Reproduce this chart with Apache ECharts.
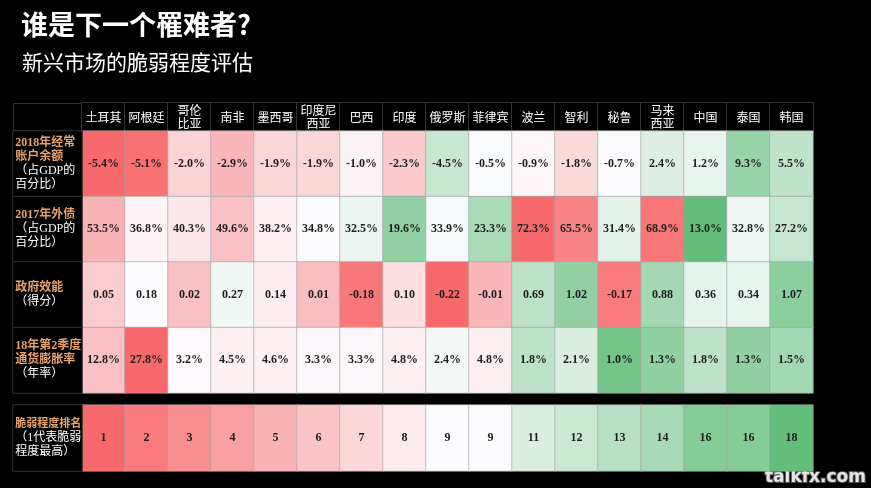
<!DOCTYPE html>
<html>
<head>
<meta charset="utf-8">
<script src="https://cdn.jsdelivr.net/npm/echarts@6/dist/echarts.min.js"></script>
<style>
html,body{margin:0;padding:0;background:#000;}
#c{width:871px;height:488px;}
</style>
</head>
<body>
<div id="c"></div>
<script>
// ---- data ----
const countries = ['土耳其','阿根廷','哥伦\n比亚','南非','墨西哥','印度尼\n西亚','巴西','印度','俄罗斯','菲律宾','波兰','智利','秘鲁','马来\n西亚','中国','泰国','韩国'];
// 2018 current account balance (% of GDP); Russia is coloured as a surplus
const currentAccount = [-5.4,-5.1,-2.0,-2.9,-1.9,-1.9,-1.0,-2.3,4.5,-0.5,-0.9,-1.8,-0.7,2.4,1.2,9.3,5.5];
const currentAccountPrinted = ['-5.4%','-5.1%','-2.0%','-2.9%','-1.9%','-1.9%','-1.0%','-2.3%','-4.5%','-0.5%','-0.9%','-1.8%','-0.7%','2.4%','1.2%','9.3%','5.5%'];
// 2017 external debt (% of GDP)
const externalDebt = [53.5,36.8,40.3,49.6,38.2,34.8,32.5,19.6,33.9,23.3,72.3,65.5,31.4,68.9,13.0,32.8,27.2];
// government effectiveness score
const govEffectiveness = [0.05,0.18,0.02,0.27,0.14,0.01,-0.18,0.10,-0.22,-0.01,0.69,1.02,-0.17,0.88,0.36,0.34,1.07];
// Q2 2018 inflation (yoy)
const inflation = [12.8,27.8,3.2,4.5,4.6,3.3,3.3,4.8,2.4,4.8,1.8,2.1,1.0,1.3,1.8,1.3,1.5];
// vulnerability rank (1 = most vulnerable)
const vulnerabilityRank = [1,2,3,4,5,6,7,8,9,9,11,12,13,14,16,16,18];

const rowTitles = [['2018年经常','账户余额'],['2017年外债'],['政府效能'],['18年第2季度','通货膨胀率']];
const rowNotes = [['（占GDP的','百分比）'],['（占GDP的','百分比）'],['（得分）'],['（年率）']];
const rankTitle = ['脆弱程度排名'];
const rankNote = ['（1代表脆弱','程度最高）'];

// ---- colour scales (red - white - green) ----
const RED=[248,105,107], WHITE=[252,252,255], GREEN=[99,190,123];
function mix(a,b,t){t=Math.max(0,Math.min(1,t));return 'rgb('+a.map((x,i)=>Math.round(x+(b[i]-x)*t)).join(',')+')';}
function cellColor(v,s){
  if ((v-s.white)*(s.red-s.white) > 0) return mix(WHITE,RED,(v-s.white)/(s.red-s.white));
  return mix(WHITE,GREEN,(v-s.white)/(s.green-s.white));
}
const rows = [
  {values: currentAccount, labels: currentAccountPrinted, scale:{red:-5.4, white:-0.7, green:14.5}},
  {values: externalDebt, labels: externalDebt.map(v=>v.toFixed(1)+'%'), scale:{red:72.3, white:34.8, green:13.0}},
  {values: govEffectiveness, labels: govEffectiveness.map(v=>v.toFixed(2)), scale:{red:-0.22, white:0.18, green:1.4}},
  {values: inflation, labels: inflation.map(v=>v.toFixed(1)+'%'), scale:{red:27.8, white:2.5, green:0.8}}
];
const rankScale = {red:1, white:9, green:18};

const mainData = [];
rows.forEach((r,ri)=>{
  r.values.forEach((v,ci)=>{
    mainData.push({value:[ci,ri,v], text:r.labels[ci], itemStyle:{color:cellColor(v,r.scale)}});
  });
});
const rankData = vulnerabilityRank.map((v,ci)=>({value:[ci,0,v], text:String(v), itemStyle:{color:cellColor(v,rankScale)}}));

function richLabel(title, note, o){
  return title.map(t=>'{'+o+'|'+t+'}').concat(note.map(t=>'{w|'+t+'}')).join('\n');
}
const labelData = rowTitles.map((t,i)=>({value:[0,i,0], text:richLabel(t,rowNotes[i],'o')}));
const rankLabelData = [{value:[0,0,0], text:richLabel(rankTitle,rankNote,'o2')}];

const CJK = '"Liberation Serif", "Noto Sans CJK SC", serif';
const rich = {
  o:{color:'#e8a36b', fontWeight:'bold', fontSize:12, lineHeight:14, fontFamily:CJK},
  o2:{color:'#e8a36b', fontWeight:'bold', fontSize:11, lineHeight:14, fontFamily:CJK},
  w:{color:'#ffffff', fontSize:12, lineHeight:14, fontFamily:CJK}
};

const cellLabel = {show:true, color:'#1e1e1e', fontFamily:'"Liberation Serif", serif', fontWeight:'bold', fontSize:12, formatter:p=>p.data.text};
const sideLabel = {show:true, position:'insideLeft', distance:3, formatter:p=>p.data.text, rich:rich};

const chart = echarts.init(document.getElementById('c'), null, {renderer:'canvas'});
chart.setOption({
  backgroundColor:'#000',
  animation:false,
  title:[
    {text:'谁是下一个罹难者?', left:16, top:6, textStyle:{color:'#fff', fontSize:27, fontWeight:'bold', fontFamily:'"Noto Sans CJK SC", sans-serif'}},
    {text:'新兴市场的脆弱程度评估', left:17, top:47, textStyle:{color:'#fff', fontSize:21, fontWeight:'normal', fontFamily:'"Noto Sans CJK SC", sans-serif'}}
  ],
  graphic:[
    {type:'rect', shape:{x:13.5, y:103.5, width:68.5, height:27.5}, style:{fill:'#000', stroke:'#333', lineWidth:1}, silent:true},
    {type:'text', right:4, bottom:1, style:{text:'talkfx.com', fill:'#e4e4e4', stroke:'#555', lineWidth:2, font:'bold 17px "DejaVu Sans"'}, silent:true}
  ],
  grid:[
    {left:82, right:58, top:131, height:262},
    {left:82, right:58, top:405, height:66},
    {left:13, width:69, top:131, height:262},
    {left:13, width:69, top:405, height:66}
  ],
  xAxis:[
    {type:'category', gridIndex:0, position:'top',
     data: countries.map(n=>({value:n, textStyle:{padding: n.indexOf('\n')>=0 ? [1,0,1,0] : [7.5,0,7.5,0]}})),
     axisLine:{show:false}, axisTick:{show:false}, splitLine:{show:false},
     axisLabel:{interval:0, margin:0, color:'#fff', fontSize:12, lineHeight:13, width:43, align:'center',
       fontFamily:'"Noto Sans CJK SC", sans-serif', backgroundColor:'#000', borderColor:'#333', borderWidth:1}},
    {type:'category', gridIndex:1, data:countries, show:false},
    {type:'category', gridIndex:2, data:['label'], show:false},
    {type:'category', gridIndex:3, data:['label'], show:false}
  ],
  yAxis:[
    {type:'category', gridIndex:0, data:[0,1,2,3], inverse:true, show:false},
    {type:'category', gridIndex:1, data:[0], show:false},
    {type:'category', gridIndex:2, data:[0,1,2,3], inverse:true, show:false},
    {type:'category', gridIndex:3, data:[0], show:false}
  ],
  series:[
    {type:'heatmap', xAxisIndex:0, yAxisIndex:0, data:mainData, label:cellLabel,
     itemStyle:{borderColor:'rgba(160,160,160,0.6)', borderWidth:1}, emphasis:{disabled:true}},
    {type:'heatmap', xAxisIndex:1, yAxisIndex:1, data:rankData, label:cellLabel,
     itemStyle:{borderColor:'rgba(160,160,160,0.6)', borderWidth:1}, emphasis:{disabled:true}},
    {type:'heatmap', xAxisIndex:2, yAxisIndex:2, data:labelData, label:sideLabel,
     itemStyle:{color:'#000', borderColor:'#333', borderWidth:1}, emphasis:{disabled:true}},
    {type:'heatmap', xAxisIndex:3, yAxisIndex:3, data:rankLabelData, label:sideLabel,
     itemStyle:{color:'#000', borderColor:'#333', borderWidth:1}, emphasis:{disabled:true}}
  ]
});
</script>
</body>
</html>
